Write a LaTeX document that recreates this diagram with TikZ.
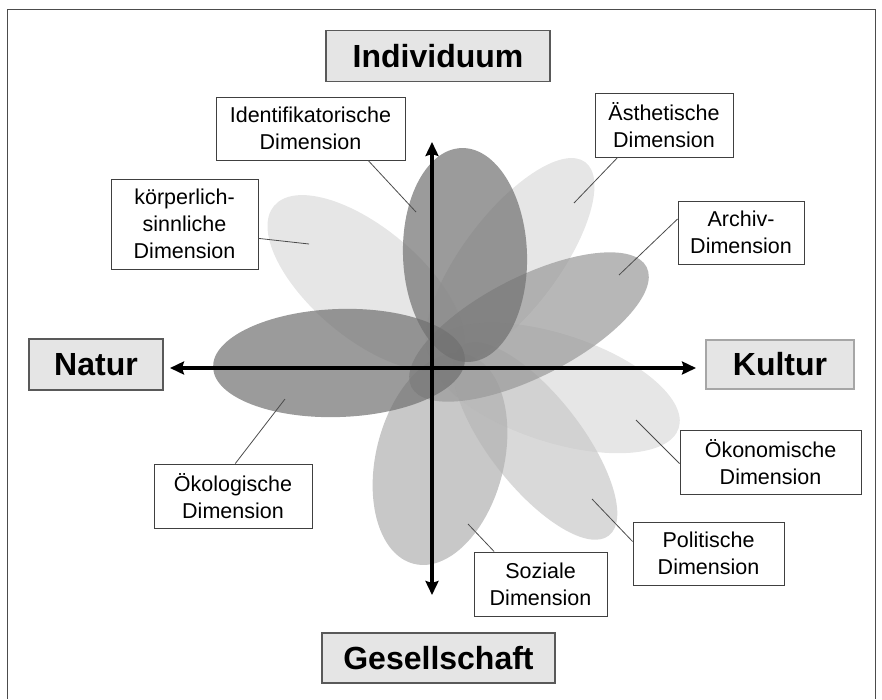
\documentclass[tikz,border=0pt]{standalone}
\usepackage{fontspec}
\setmainfont{Liberation Sans}
\usetikzlibrary{arrows.meta}
\definecolor{petallight}{gray}{0.86}
\definecolor{petalmid}{gray}{0.79}
\definecolor{petalsoft}{gray}{0.69}
\definecolor{petaldeep}{gray}{0.60}
\definecolor{petaldark}{gray}{0.44}
\tikzset{
  polebox/.style={draw=black!65, fill=black!10, line width=1.2pt, inner sep=0pt,
    font=\bfseries\fontsize{32}{38}\selectfont},
  dimbox/.style={draw=black!75, fill=white, line width=0.9pt, inner sep=0pt,
    align=center, font=\fontsize{21.5}{27}\selectfont},
  leader/.style={draw=black!70, line width=0.8pt},
  axis/.style={line width=4pt,
    {Stealth[length=14pt,width=13pt,inset=2pt]}-{Stealth[length=14pt,width=13pt,inset=2pt]}}
}
\begin{document}
\begin{tikzpicture}[x=1pt,y=-1pt]
            \useasboundingbox (0,0) rectangle (882,699);
            % frame
            \draw[black!70, line width=0.8pt] (7,699) -- (7,9) -- (875,9) -- (875,699);
            % petals
            \foreach \cx/\cy/\ang/\ra/\rb/\tone in {
                    510/262/53/125/48/petallight,
                    366/283/140/120/55/petallight,
                    555/388/-18/130/54/petallight,
                    535/441/-52/120/46/petalmid,
                    440/459/76/108/64/petalsoft,
                    529/327/27/132/50/petaldeep,
                    465/255/92/107/62/petaldark,
                    339/363/2/126/54/petaldark} {
                    \fill[fill=\tone, fill opacity=0.7, shift={(\cx,\cy)}, rotate=\ang]
                        (0,0) ellipse [x radius=\ra pt, y radius=\rb pt];
                }
            % axes
            \coordinate (northend) at (432,142);
            \coordinate (southend) at (432,595);
            \coordinate (westend) at (170,368);
            \coordinate (eastend) at (696,368);
            \draw[axis] (southend) -- (northend);
            \draw[axis] (westend) -- (eastend);
            % poles
            \node[polebox, minimum width=224pt, minimum height=51pt] (individuum) at (438,56) {Individuum};
            \node[polebox, minimum width=134pt, minimum height=51pt] (natur) at (96,364.5) {Natur};
            \node[polebox, draw=black!35, minimum width=148pt, minimum height=49pt] (kultur) at (780,364.5) {Kultur};
            \node[polebox, minimum width=233pt, minimum height=50pt] (gesellschaft) at (438.5,658) {Gesellschaft};
            % dimensions
            \node[dimbox, minimum width=189pt, minimum height=63pt] (ident) at (310.5,128.5) {Identifikatorische\\Dimension};
            \node[dimbox, minimum width=138pt, minimum height=64pt] (aesth) at (664,125) {Ästhetische\\Dimension};
            \node[dimbox, minimum width=147pt, minimum height=90pt] (koerper) at (184.5,224) {körperlich-\\sinnliche\\Dimension};
            \node[dimbox, minimum width=126pt, minimum height=63pt] (archiv) at (741,232.5) {Archiv-\\Dimension};
            \node[dimbox, minimum width=158pt, minimum height=64pt] (oekol) at (233,496) {Ökologische\\Dimension};
            \node[dimbox, minimum width=181pt, minimum height=64pt] (oekon) at (770.5,462) {Ökonomische\\Dimension};
            \node[dimbox, minimum width=151pt, minimum height=63pt] (polit) at (708.5,553.5) {Politische\\Dimension};
            \node[dimbox, minimum width=133pt, minimum height=64pt] (sozial) at (540.5,584) {Soziale\\Dimension};
            % leaders
            \coordinate (identpt) at (416,212);
            \coordinate (aesthpt) at (574,203);
            \coordinate (koerperpt) at (309,244);
            \coordinate (archivpt) at (619,275);
            \coordinate (oekolpt) at (285,399);
            \coordinate (oekonpt) at (636,420);
            \coordinate (politpt) at (592,499);
            \coordinate (sozialpt) at (468,524);
            \draw[leader] (ident.-29) -- (identpt);
            \draw[leader] (aesth.215) -- (aesthpt);
            \draw[leader] (koerper.-11) -- (koerperpt);
            \draw[leader] (archiv.168) -- (archivpt);
            \draw[leader] (oekol.86) -- (oekolpt);
            \draw[leader] (oekon.181) -- (oekonpt);
            \draw[leader] (polit.171) -- (politpt);
            \draw[leader] (sozial.145) -- (sozialpt);
        \end{tikzpicture}
\end{document}
